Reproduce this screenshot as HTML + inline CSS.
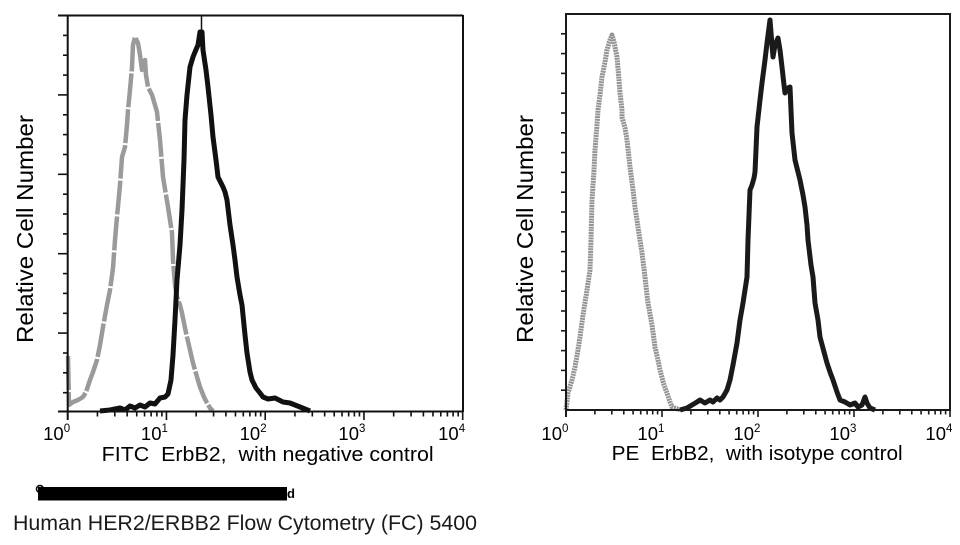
<!DOCTYPE html>
<html>
<head>
<meta charset="utf-8">
<style>
  html, body { margin:0; padding:0; background:#fff; }
  body { width:960px; height:545px; overflow:hidden; }
  svg { display:block; }
  text { font-family: "Liberation Sans", Arial, sans-serif; fill:#000; }
</style>
</head>
<body>
<svg width="960" height="545" viewBox="0 0 960 545" xmlns="http://www.w3.org/2000/svg">
  <rect x="0" y="0" width="960" height="545" fill="#fff"/>

  <!-- ================= LEFT PLOT ================= -->
  <!-- gray curve -->
  <polyline fill="none" stroke="#9a9a9a" stroke-width="4.5" stroke-linejoin="round" stroke-dasharray="34 2"
    points="68,356 69,405 73,402 78,400 83,397 86,392 90,380 93,372 97,360 100,345 103,327 107,305 110,290 113,268 115,240 117,217 120,185 122,157 125,147 127,125 128,110 130,90 132,67 133,45 135,37 138,43 140,55 142,70 145,60 146,75 148,87 152,95 155,105 157,112 160,140 163,177 166,195 168,207 170,220 172,233 173,260 175,285 177,297 180,305 182,313 185,328 187,337 190,350 193,363 197,377 200,387 204,397 207,403 210,408 213,411"/>
  <!-- black curve -->
  <polyline fill="none" stroke="#111" stroke-width="5" stroke-linejoin="round"
    points="100,411 110,410 120,408 125,410 130,406 135,408 140,405 145,407 150,403 155,404 160,398 165,397 168,394 171,380 173,355 175,320 177,280 180,245 182,210 184,160 185,120 187,95 190,67 193,57 195,52 198,45 200,32 202,32 203,50 206,70 208,87 211,115 213,137 216,160 218,177 221,183 223,187 225,192 227,200 230,225 233,245 235,260 237,277 240,295 242,305 245,335 247,353 250,372 252,380 256,388 260,393 263,397 268,399 275,398 283,402 290,403 295,405 300,407 305,409 310,411"/>
  <line x1="201.5" y1="15" x2="201.5" y2="34" stroke="#111" stroke-width="1.5"/>

  <!-- frame -->
  <g stroke="#111" stroke-width="2" fill="none">
    <line x1="58" y1="15.5" x2="463" y2="15.5"/>
    <line x1="58" y1="411.5" x2="463" y2="411.5"/>
    <line x1="67.7" y1="15" x2="67.7" y2="420"/>
    <line x1="463" y1="15" x2="463" y2="412"/>
  </g>
  <!-- left y ticks -->
  <g stroke="#111" stroke-width="1.6">
    <line x1="58" y1="94.9" x2="68" y2="94.9"/>
    <line x1="58" y1="174.3" x2="68" y2="174.3"/>
    <line x1="58" y1="253.7" x2="68" y2="253.7"/>
    <line x1="58" y1="333.1" x2="68" y2="333.1"/>
    <line x1="63" y1="35.4" x2="68" y2="35.4"/>
    <line x1="63" y1="55.2" x2="68" y2="55.2"/>
    <line x1="63" y1="75.1" x2="68" y2="75.1"/>
    <line x1="63" y1="114.8" x2="68" y2="114.8"/>
    <line x1="63" y1="134.6" x2="68" y2="134.6"/>
    <line x1="63" y1="154.5" x2="68" y2="154.5"/>
    <line x1="63" y1="194.2" x2="68" y2="194.2"/>
    <line x1="63" y1="214.0" x2="68" y2="214.0"/>
    <line x1="63" y1="233.9" x2="68" y2="233.9"/>
    <line x1="63" y1="273.6" x2="68" y2="273.6"/>
    <line x1="63" y1="293.4" x2="68" y2="293.4"/>
    <line x1="63" y1="313.3" x2="68" y2="313.3"/>
    <line x1="63" y1="353.0" x2="68" y2="353.0"/>
    <line x1="63" y1="372.8" x2="68" y2="372.8"/>
    <line x1="63" y1="392.7" x2="68" y2="392.7"/>
  </g>
  <!-- left x ticks -->
  <g id="lxt" stroke="#111" stroke-width="1.6"></g>

  <!-- left tick labels -->
  <g font-size="18.5">
    <text x="63.7" y="440" text-anchor="end">10</text><text x="63.7" y="432" font-size="11.5">0</text>
    <text x="161.5" y="440" text-anchor="end">10</text><text x="161.5" y="432" font-size="11.5">1</text>
    <text x="260.2" y="440" text-anchor="end">10</text><text x="260.2" y="432" font-size="11.5">2</text>
    <text x="359" y="440" text-anchor="end">10</text><text x="359" y="432" font-size="11.5">3</text>
    <text x="458.7" y="440" text-anchor="end">10</text><text x="458.7" y="432" font-size="11.5">4</text>
  </g>
  <text x="101.7" y="461" font-size="20" textLength="332" lengthAdjust="spacingAndGlyphs" xml:space="preserve">FITC  ErbB2,  with negative control</text>
  <text transform="translate(33,229) rotate(-90)" text-anchor="middle" font-size="23.5" textLength="228" lengthAdjust="spacingAndGlyphs">Relative Cell Number</text>

  <!-- ================= RIGHT PLOT ================= -->
  <!-- light speckled curve -->
  <polyline fill="none" stroke="#949494" stroke-width="5" stroke-linejoin="round" stroke-dasharray="2 0.7"
    points="566,410 568,393 572,380 575,367 578,350 580,337 583,315 587,290 590,270 591,240 592,200 594,170 595,150 597,125 598,110 600,95 602,77 605,62 607,50 610,40 612,35 614,42 617,57 619,80 620,93 622,110 622,117 625,128 627,140 630,167 633,190 635,207 638,227 640,240 642,253 645,277 647,295 648,303 652,325 655,347 658,360 660,370 664,385 667,393 670,402 672,407 680,410"/>
  <!-- dark curve -->
  <polyline fill="none" stroke="#1a1a1a" stroke-width="5" stroke-linejoin="round"
    points="680,410 687,408 692,405 697,402 700,400 705,403 710,400 713,402 717,398 720,400 723,397 727,390 730,380 733,365 737,343 740,320 743,303 745,290 747,277 748,240 750,190 752,185 754,178 755,172 756,150 757,127 760,100 762,83 765,60 767,43 770,20 772,45 773,57 775,45 778,38 780,50 782,67 784,85 785,93 788,88 790,87 791,110 792,133 795,160 798,172 800,180 803,195 805,207 807,225 808,240 811,265 813,277 815,303 818,320 820,337 824,352 827,363 830,372 833,380 837,392 840,400 845,402 850,405 855,403 858,407 862,405 865,397 867,403 870,408 875,410"/>

  <!-- frame -->
  <g stroke="#1a1a1a" stroke-width="2" fill="none">
    <line x1="565" y1="14" x2="951" y2="14"/>
    <line x1="565" y1="410" x2="951" y2="410"/>
    <line x1="566" y1="13" x2="566" y2="417"/>
    <line x1="950" y1="13" x2="950" y2="411"/>
  </g>
  <!-- right y ticks -->
  <g id="ryt" stroke="#1a1a1a" stroke-width="1.6"></g>
  <g id="rxt" stroke="#1a1a1a" stroke-width="1.6"></g>

  <!-- right tick labels -->
  <g font-size="18.5">
    <text x="562" y="440" text-anchor="end">10</text><text x="562" y="432" font-size="11.5">0</text>
    <text x="658" y="440" text-anchor="end">10</text><text x="658" y="432" font-size="11.5">1</text>
    <text x="754" y="440" text-anchor="end">10</text><text x="754" y="432" font-size="11.5">2</text>
    <text x="850" y="440" text-anchor="end">10</text><text x="850" y="432" font-size="11.5">3</text>
    <text x="946" y="440" text-anchor="end">10</text><text x="946" y="432" font-size="11.5">4</text>
  </g>
  <text x="611.7" y="460" font-size="20" textLength="291" lengthAdjust="spacingAndGlyphs" xml:space="preserve">PE  ErbB2,  with isotype control</text>
  <text transform="translate(533,229) rotate(-90)" text-anchor="middle" font-size="23.5" textLength="228" lengthAdjust="spacingAndGlyphs">Relative Cell Number</text>

  <!-- ================= CAPTION ================= -->
  <circle cx="40" cy="489" r="3.5" fill="none" stroke="#000" stroke-width="1.5"/>
  <rect x="38" y="487" width="249" height="13.5" fill="#000"/>
  <text x="287" y="498" font-size="13" font-weight="bold">d</text>
  <text x="13" y="530" font-size="21" textLength="464" lengthAdjust="spacingAndGlyphs" style="font-family:'Liberation Sans','DejaVu Sans',sans-serif;fill:#1a1a1a">Human HER2/ERBB2 Flow Cytometry (FC) 5400</text>
</svg>
<script>
(function(){
  var NS="http://www.w3.org/2000/svg";
  function ln(g,x1,y1,x2,y2){var l=document.createElementNS(NS,"line");l.setAttribute("x1",x1);l.setAttribute("y1",y1);l.setAttribute("x2",x2);l.setAttribute("y2",y2);g.appendChild(l);}
  var g=document.getElementById("lxt"), x0=67.7, d=98.75, yA=411.5;
  for(var k=0;k<4;k++){
    for(var m=2;m<=9;m++){var x=x0+(k+Math.log10(m))*d; ln(g,x,yA,x,yA+5);}
  }
  for(var k=1;k<=4;k++){var x=x0+k*d; ln(g,x,yA,x,yA+8.5);}
  g=document.getElementById("rxt"); x0=566; d=96; yA=410;
  for(var k=0;k<4;k++){
    for(var m=2;m<=9;m++){var x=x0+(k+Math.log10(m))*d; ln(g,x,yA,x,yA+4.5);}
  }
  for(var k=1;k<=4;k++){var x=x0+k*d; ln(g,x,yA,x,yA+7);}
  g=document.getElementById("ryt");
  for(var i=1;i<20;i++){var y=14+i*19.8; ln(g,561,y,566,y);}
})();
</script>
</body>
</html>
